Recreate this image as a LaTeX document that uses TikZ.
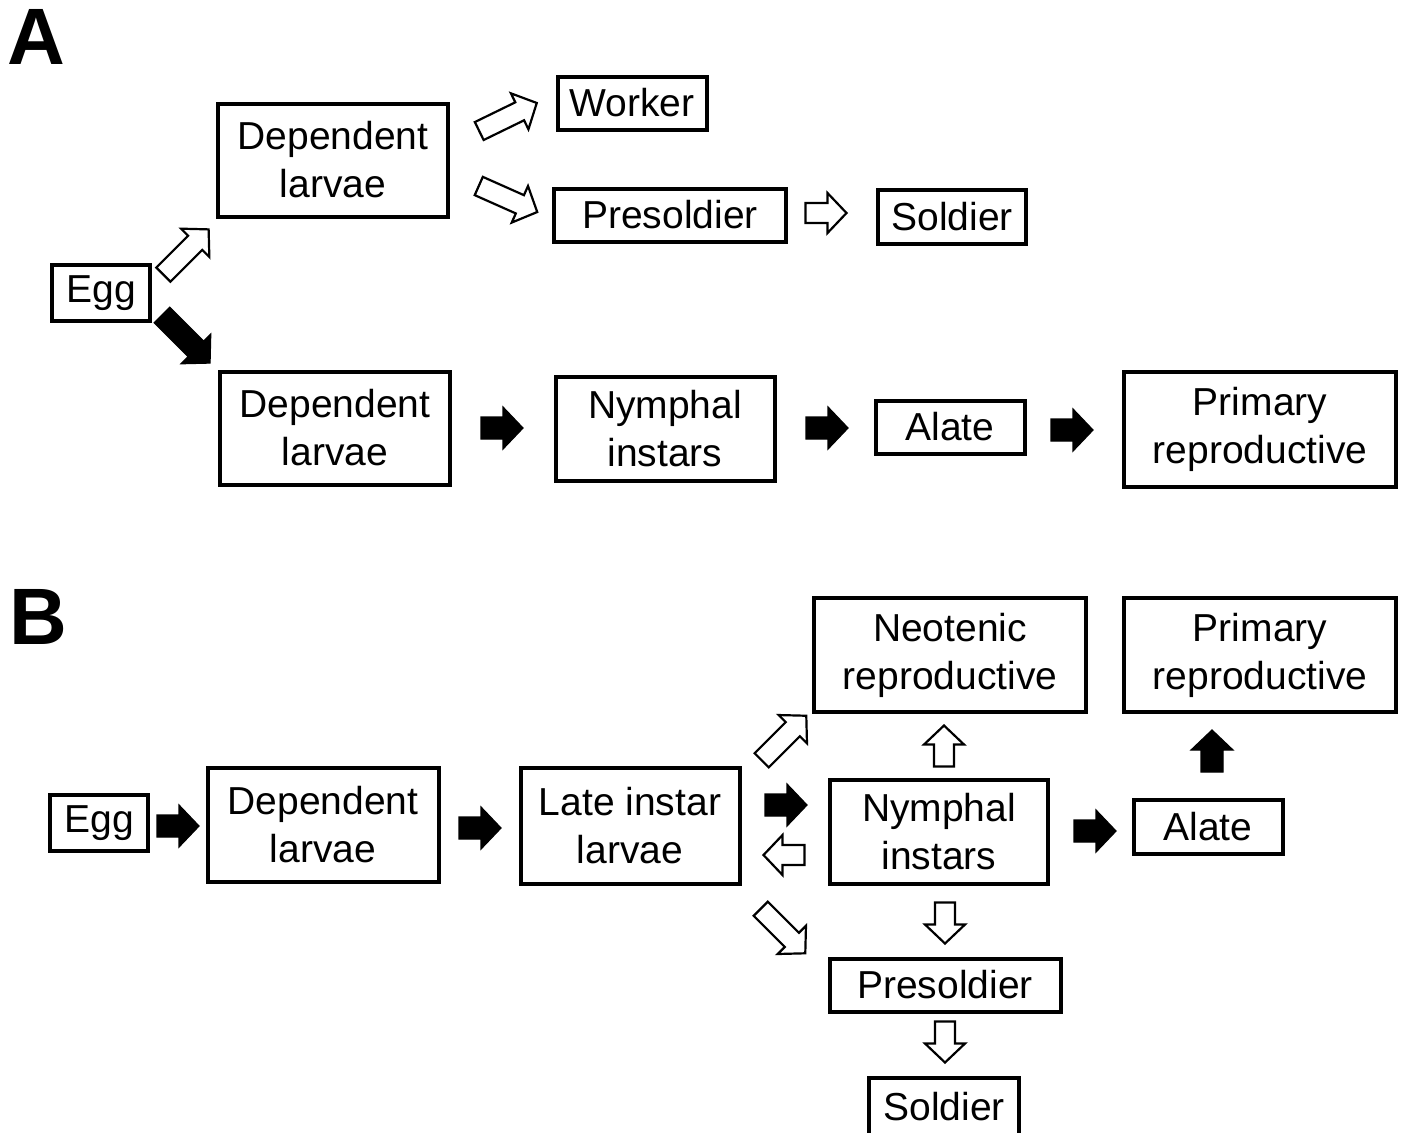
\documentclass[tikz,border=0pt]{standalone}
\usepackage{fontspec}
\setmainfont{Liberation Sans}
\begin{document}
\begin{tikzpicture}[x=0.5pt,y=-0.5pt,
  box/.style={draw, line width=2pt, inner sep=0pt, align=center,
    font=\fontsize{19.5}{24}\selectfont},
  sz/.style 2 args={minimum width=#1*0.5pt, minimum height=#2*0.5pt},
  panel/.style={inner sep=0pt, font=\fontsize{40}{40}\selectfont\bfseries},
  blk/.pic={\filldraw[line width=0.6pt, line join=miter, fill=black]
    (-#1/2,-11) -- ({#1/2-20},-11) -- ({#1/2-20},-21) -- (#1/2,0)
    -- ({#1/2-20},21) -- ({#1/2-20},11) -- (-#1/2,11) -- cycle;},
  hol/.pic={\filldraw[line width=1.1pt, line join=miter, fill=white]
    (-#1/2,-10) -- ({#1/2-19},-10) -- ({#1/2-19},-20) -- (#1/2,0)
    -- ({#1/2-19},20) -- ({#1/2-19},10) -- (-#1/2,10) -- cycle;}]
\useasboundingbox (0,0) rectangle (1406,1132);

% Panel labels
\node[panel] (labA) at (36,37) {A};
\node[panel] (labB) at (38,617) {B};

% Panel A boxes
\node[box, sz={98}{56}] (aegg) at (101,293) {Egg};
\node[box, sz={230}{113}] (adep1) at (333,160) {Dependent\\larvae};
\node[box, sz={149}{53}] (awork) at (632,103) {Worker};
\node[box, sz={232}{53}] (apres) at (670,215) {Presoldier};
\node[box, sz={148}{54}] (asold) at (952,217) {Soldier};
\node[box, sz={230}{113}] (adep2) at (335,428) {Dependent\\larvae};
\node[box, sz={219}{104}] (anymph) at (665,429) {Nymphal\\instars};
\node[box, sz={149}{53}] (aalate) at (950,427) {Alate};
\node[box, sz={272}{115}] (aprim) at (1260,429) {Primary\\reproductive};

% Panel A arrows
\pic[rotate=45] at (186,252) {hol=64};
\pic[rotate=-45] at (186,339) {blk=68};
\pic[rotate=26] at (508,117) {hol=64};
\pic[rotate=-24] at (508,199) {hol=64};
\pic at (826,213) {hol=41};
\pic at (502,428) {blk=42};
\pic at (827,428) {blk=42};
\pic at (1072,430) {blk=42};

% Panel B boxes
\node[box, sz={98}{56}] (begg) at (99,823) {Egg};
\node[box, sz={231}{114}] (bdep) at (323,825) {Dependent\\larvae};
\node[box, sz={219}{116}] (blate) at (630,826) {Late instar\\larvae};
\node[box, sz={272}{114}] (bneo) at (950,655) {Neotenic\\reproductive};
\node[box, sz={272}{114}] (bprim) at (1260,655) {Primary\\reproductive};
\node[box, sz={218}{104}] (bnymph) at (939,832) {Nymphal\\instars};
\node[box, sz={149}{54}] (balate) at (1208,827) {Alate};
\node[box, sz={231}{53}] (bpres) at (945,985) {Presoldier};
\node[box, sz={150}{58}] (bsold) at (944,1107) {Soldier};

% Panel B arrows
\pic at (178,826) {blk=42};
\pic at (480,828) {blk=42};
\pic[rotate=45] at (784,738) {hol=63};
\pic at (786,805) {blk=42};
\pic[rotate=180] at (784,855) {hol=41};
\pic[rotate=-45] at (783,931) {hol=63};
\pic[rotate=90] at (944,746) {hol=41};
\pic[rotate=-90] at (945,923) {hol=41};
\pic[rotate=-90] at (945,1042) {hol=41};
\pic at (1095,831) {blk=42};
\pic[rotate=90] at (1212,751) {blk=42};
\end{tikzpicture}
\end{document}
